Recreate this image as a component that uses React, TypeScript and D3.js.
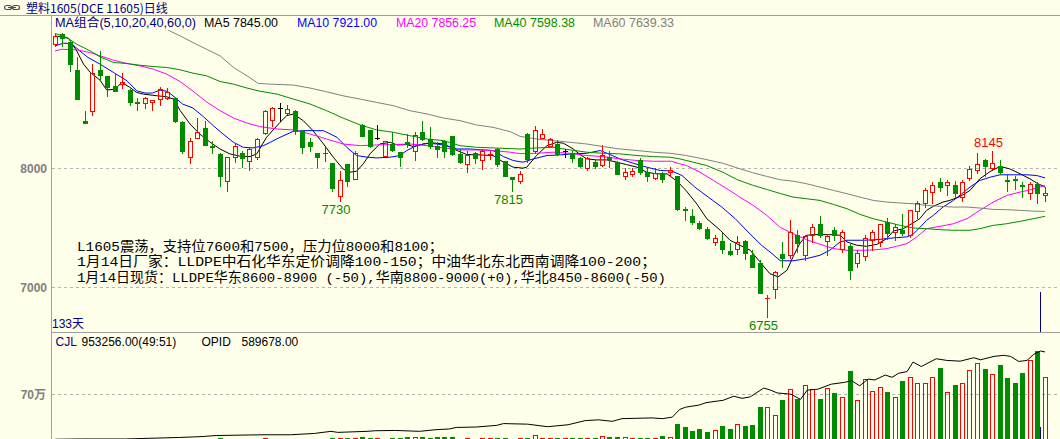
import React from "react";
import * as d3 from "d3";

// ---------- data ----------
const opens = [
  9045, 9130, 9060, 8825, 8400, 8480, 8825, 8780, 8695, 8710,
  8660, 8560, 8550, 8560, 8580, 8595, 8590, 8390, 8100, 8260,
  8340, 8190, 8125, 7895, 8095, 8130, 8060, 8095, 8300, 8405,
  8510, 8465, 8485, 8315, 8220, 8130, 8125, 8045, 7770, 8035,
  7915, 8365, 8320, 8255, 8105, 8205, 8140, 8225, 8145, 8310,
  8250, 8185, 8235, 8270, 8125, 8040, 8130, 8070, 8120, 8165,
  8060, 7925, 7895, 8290, 8150, 8260, 8190, 8210, 8150, 8130,
  8090, 8005, 8055, 8030, 8100, 8055, 7935, 7955, 8075, 7970,
  7920, 7950, 7970, 7940, 7660, 7605, 7540, 7495, 7385, 7390,
  7305, 7325, 7390, 7275, 7210, 6900, 6985, 7280, 7270, 7445,
  7270, 7445, 7535, 7390, 7485, 7325, 7345, 7205, 7265, 7395,
  7385, 7550, 7470, 7485, 7440, 7640, 7710, 7800, 7890, 7865,
  7865, 7760, 7920, 7985, 8075, 8005, 8025, 7905, 7915, 7865,
  7790, 7870, 7780,
];
const highs = [
  9130, 9140, 9070, 8935, 8485, 8875, 8985, 8780, 8805, 8805,
  8665, 8595, 8605, 8575, 8685, 8680, 8595, 8400, 8260, 8425,
  8400, 8235, 8130, 8100, 8205, 8150, 8180, 8255, 8495, 8520,
  8550, 8535, 8490, 8320, 8260, 8130, 8180, 8045, 7975, 8040,
  8145, 8375, 8320, 8365, 8235, 8305, 8140, 8290, 8310, 8395,
  8345, 8220, 8240, 8275, 8165, 8150, 8135, 8165, 8145, 8175,
  8060, 7930, 7975, 8295, 8360, 8330, 8260, 8240, 8165, 8145,
  8095, 8100, 8070, 8200, 8145, 8060, 8005, 8005, 8085, 8005,
  8005, 7970, 8015, 7940, 7675, 7660, 7555, 7510, 7440, 7460,
  7375, 7430, 7400, 7315, 7235, 6935, 7135, 7385, 7565, 7485,
  7445, 7535, 7600, 7450, 7505, 7480, 7365, 7315, 7440, 7485,
  7535, 7580, 7530, 7615, 7650, 7725, 7835, 7885, 7920, 7900,
  7895, 7905, 8025, 8130, 8080, 8145, 8070, 7955, 7940, 7885,
  7885, 7885, 7845,
];
const lows = [
  9030, 9030, 8820, 8580, 8380, 8450, 8745, 8610, 8650, 8675,
  8535, 8495, 8510, 8495, 8530, 8585, 8390, 8130, 8045, 8255,
  8195, 8130, 7855, 7815, 8055, 8015, 7985, 8080, 8290, 8360,
  8395, 8460, 8290, 8130, 8150, 8015, 8060, 7815, 7730, 7855,
  7910, 8275, 8180, 8245, 8105, 8150, 8025, 8180, 8075, 8240,
  8175, 8095, 8095, 8115, 8045, 7970, 8045, 8000, 8080, 8025,
  7935, 7815, 7880, 8055, 8130, 8255, 8185, 8115, 8095, 8055,
  8015, 7985, 8005, 8025, 8015, 7950, 7910, 7935, 7955, 7895,
  7910, 7890, 7935, 7655, 7565, 7535, 7495, 7405, 7355, 7290,
  7275, 7285, 7240, 7175, 6955, 6755, 6915, 7175, 7245, 7300,
  7230, 7385, 7425, 7270, 7395, 7300, 7075, 7175, 7230, 7315,
  7345, 7410, 7395, 7445, 7425, 7580, 7675, 7710, 7815, 7780,
  7760, 7730, 7900, 7960, 7940, 8000, 7955, 7810, 7830, 7760,
  7745, 7710, 7730,
];
const closes = [
  9115, 9095, 8880, 8585, 8380, 8800, 8785, 8685, 8655, 8730,
  8555, 8550, 8590, 8575, 8665, 8640, 8395, 8145, 8235, 8310,
  8195, 8180, 7935, 8095, 8190, 8085, 8165, 8250, 8480, 8505,
  8510, 8500, 8315, 8180, 8190, 8100, 8130, 7835, 7900, 7895,
  8130, 8275, 8190, 8255, 8235, 8155, 8100, 8205, 8285, 8250,
  8190, 8160, 8145, 8125, 8055, 8115, 8085, 8150, 8125, 8035,
  7935, 7915, 7955, 8080, 8320, 8290, 8250, 8125, 8150, 8085,
  8025, 8085, 8025, 8115, 8080, 7950, 7970, 7975, 7970, 7940,
  7960, 7910, 7985, 7660, 7650, 7550, 7500, 7415, 7420, 7320,
  7285, 7385, 7290, 7175, 6955, 6915, 7130, 7245, 7465, 7375,
  7435, 7505, 7440, 7435, 7440, 7465, 7145, 7290, 7415, 7470,
  7530, 7455, 7505, 7460, 7650, 7710, 7820, 7865, 7845, 7890,
  7790, 7885, 8000, 8040, 8025, 8045, 7970, 7895, 7905, 7850,
  7870, 7795, 7795,
];
const volumes = [
  8000, 6000, 7000, 9000, 8000, 9000, 7000, 6000, 6000, 7000,
  8000, 6000, 6000, 6000, 7000, 6000, 9000, 11000, 10000, 9000,
  10000, 11000, 27000, 12000, 10000, 11000, 12000, 12000, 38000, 12000,
  13000, 12000, 13000, 17000, 12000, 17000, 17000, 38000, 38000, 38000,
  38000, 49000, 38000, 38000, 22000, 38000, 38000, 49000, 49000, 49000,
  38000, 49000, 49000, 49000, 12000, 38000, 22000, 38000, 27000, 38000,
  38000, 22000, 27000, 38000, 79000, 38000, 23000, 38000, 38000, 38000,
  38000, 38000, 38000, 68000, 53000, 53000, 49000, 23000, 38000, 38000,
  38000, 68000, 53000, 243000, 192000, 131000, 161000, 120000, 157000, 218000,
  161000, 250000, 218000, 233000, 500000, 495000, 388000, 609000, 773000, 630000,
  840000, 773000, 624000, 790000, 717000, 656000, 1056000, 609000, 928000, 747000,
  810000, 732000, 656000, 902000, 963000, 861000, 872000, 963000, 1103000, 732000,
  840000, 872000, 1071000, 1179000, 1088000, 1010000, 1134000, 948000, 861000, 1015000,
  1211000, 1354000, 953256,
];

// moving averages: [day index, value]
const ma5: [number, number][] = [
  [0, 9114], [1.8, 9095], [2.9, 8988], [3.8, 8877], [4.7, 8807], [6, 8743], [6.9, 8659], [8, 8667],
  [8.9, 8723], [10, 8681], [10.9, 8639], [11.8, 8625], [13.6, 8611], [14.9, 8603], [15.8, 8583],
  [16.7, 8486], [18, 8374], [19.3, 8290], [20.7, 8220], [22, 8164], [23.3, 8123], [24.7, 8103],
  [26, 8100], [26.9, 8123], [28.2, 8262], [30, 8388], [30.9, 8444], [31.8, 8458], [33.1, 8402],
  [34.4, 8318], [35.8, 8206], [37.1, 8095], [38.4, 7997], [39.3, 7969], [40.2, 7977], [41.1, 8039],
  [42, 8123], [43.3, 8206], [44.7, 8220], [45.6, 8198], [46.9, 8201], [47.8, 8184], [49.1, 8206],
  [50.4, 8215], [51.8, 8206], [53.6, 8151], [54.9, 8117], [56.7, 8114], [58.4, 8109], [59.8, 8053],
  [61.1, 8011], [62.4, 8003], [62.9, 8011], [64.2, 8109], [65.6, 8192], [66.9, 8220], [67.8, 8212],
  [69.1, 8164], [70, 8117], [70.9, 8081], [72.2, 8072], [73.6, 8072], [74.9, 8053], [76.2, 8033],
  [77.6, 8011], [78.9, 7969], [80.2, 7955], [81.6, 7955], [83, 7890], [84.2, 7810], [85.6, 7700],
  [86.9, 7578], [88.7, 7481], [90, 7397], [91.3, 7355], [92.7, 7313], [94, 7215], [95.3, 7117],
  [96.4, 7089], [97.6, 7145], [98.4, 7257], [99.3, 7369], [100.2, 7439], [101.1, 7444], [102, 7444],
  [103.3, 7444], [104.7, 7439], [105.6, 7383], [106.9, 7355], [108.2, 7346], [109.6, 7363],
  [110.9, 7411], [111.8, 7475], [113.1, 7494], [114.4, 7542], [115.3, 7578], [116.2, 7648],
  [117.1, 7682], [118.4, 7718], [119.3, 7732], [120.7, 7765], [122, 7816], [123.3, 7913],
  [124.7, 7975], [126, 8017], [127.3, 7997], [128.7, 7955], [130, 7913], [130.9, 7877], [132, 7845],
];
const ma10: [number, number][] = [
  [0, 9030], [1.1, 9053], [2.2, 9050], [3.3, 8988], [4.4, 8933], [6, 8877], [7.8, 8807], [9.6, 8737],
  [10.9, 8653], [12, 8634], [13, 8634], [14, 8659], [15, 8648], [16, 8597], [17, 8542], [18.4, 8508],
  [19.8, 8435], [21.1, 8360], [22.4, 8290], [23.8, 8220], [25.1, 8178], [26.4, 8173], [27.8, 8192],
  [28.7, 8220], [30, 8262], [31.8, 8313], [33.1, 8318], [35.8, 8318], [37.6, 8262], [38.9, 8178],
  [40.2, 8109], [41.6, 8095], [42.9, 8089], [44.7, 8095], [46, 8109], [46.9, 8151], [48.2, 8192],
  [49.6, 8212], [50.9, 8206], [52.2, 8192], [53.6, 8164], [55.3, 8164], [57.1, 8156], [58.4, 8151],
  [59.8, 8100], [61.1, 8067], [62.4, 8053], [63.8, 8081], [65.6, 8109], [67.3, 8114], [69.1, 8123],
  [70.9, 8128], [72.7, 8151], [74, 8117], [75.3, 8081], [77.1, 8044], [78.9, 8011], [80.7, 7983],
  [82.2, 7980], [83.6, 7941], [85.3, 7844], [87.1, 7760], [88.9, 7676], [90.7, 7578], [92.4, 7467],
  [94.2, 7355], [95.6, 7285], [96.7, 7225], [98.4, 7224], [100.2, 7243], [102, 7271], [103.3, 7313],
  [104.7, 7383], [105.6, 7397], [107.8, 7397], [109.6, 7402], [110.9, 7411], [112.2, 7419],
  [113.6, 7425], [114.4, 7447], [115.3, 7503], [116.2, 7564], [117.1, 7606], [118.4, 7676],
  [119.8, 7732], [120.9, 7788], [122, 7844], [123.3, 7899], [124.7, 7927], [126, 7947], [127.8, 7947],
  [129.6, 7947], [130.9, 7941], [132, 7921],
];
const ma20: [number, number][] = [
  [0, 8988], [0.9, 9002], [2.9, 8997], [4.7, 8974], [6, 8947], [7.8, 8910], [9.6, 8882], [11.3, 8863],
  [13.1, 8835], [14.9, 8793], [16.7, 8730], [18.4, 8650], [20.2, 8560], [22, 8486], [23.8, 8424],
  [25.6, 8382], [27.3, 8352], [29.6, 8332], [31.8, 8324], [34, 8290], [36.2, 8248], [38.4, 8206],
  [40.7, 8192], [42.9, 8198], [45.1, 8201], [47.3, 8206], [49.6, 8192], [51.8, 8173], [54, 8156],
  [56.2, 8156], [58.4, 8151], [60.7, 8137], [62, 8125], [64.2, 8128], [66.4, 8137], [68.7, 8128],
  [70.9, 8109], [73.1, 8100], [75.3, 8081], [77.6, 8067], [79.8, 8061], [82.2, 8061], [83.3, 8039],
  [84.2, 8025], [86, 7969], [87.8, 7899], [89.6, 7830], [91.3, 7760], [93.1, 7690], [94.9, 7606],
  [96.7, 7505], [98.4, 7453], [100.2, 7402], [102, 7363], [103.8, 7327], [105.6, 7313], [107.8, 7313],
  [109.6, 7318], [110.9, 7327], [112.2, 7346], [113.6, 7369], [114.9, 7425], [116.2, 7494],
  [118, 7514], [119.8, 7536], [121.6, 7578], [123.3, 7648], [125.1, 7718], [126.9, 7774],
  [128.7, 7802], [130, 7821], [132, 7856],
];
const ma40: [number, number][] = [
  [0, 9135], [1.6, 9100], [2.9, 9044], [4.7, 8988], [6, 8938], [7.8, 8891], [9.6, 8882], [11.3, 8868],
  [13.1, 8857], [14.9, 8849], [16.7, 8829], [18.4, 8801], [20.2, 8779], [22, 8731], [23.8, 8709],
  [25.6, 8676], [27.3, 8650], [29.6, 8625], [31.8, 8583], [34, 8542], [36.2, 8486], [38.4, 8424],
  [40.7, 8366], [42.9, 8324], [45.1, 8304], [47.3, 8276], [49.6, 8248], [51.8, 8234], [54, 8192],
  [56.2, 8178], [58.4, 8173], [60.7, 8167], [62, 8164], [64.2, 8173], [66.4, 8178], [68.7, 8156],
  [70.9, 8137], [73.1, 8128], [75.3, 8123], [77.6, 8109], [79.8, 8100], [82, 8095], [83.3, 8081],
  [85.1, 8053], [86.9, 8025], [89, 7970], [91, 7905], [93, 7860], [95, 7822], [96.7, 7790],
  [98.4, 7760], [100.2, 7746], [102, 7732], [103.8, 7698], [105.6, 7662], [107.3, 7615], [109.1, 7578],
  [110.9, 7550], [112.7, 7522], [114.4, 7500], [116.2, 7494], [118, 7486], [119.8, 7481], [122, 7481],
  [123.3, 7494], [125.1, 7522], [126.9, 7536], [128.7, 7556], [130.4, 7578], [132, 7598],
];
const ma60: [number, number][] = [
  [14.5, 9185], [15.3, 9156], [16.7, 9114], [18.4, 9058], [20.2, 9002], [22, 8947], [23.8, 8849],
  [25.6, 8779], [27.1, 8715], [28.7, 8709], [31.8, 8701], [34, 8676], [36.2, 8645], [38.4, 8611],
  [40.7, 8583], [42.9, 8555], [45.1, 8528], [47.3, 8486], [49.6, 8458], [51.8, 8424], [54, 8402],
  [56.2, 8366], [58.4, 8346], [60.7, 8310], [62, 8270], [64.2, 8248], [66.4, 8234], [68.7, 8220],
  [70.9, 8206], [73.1, 8184], [75.3, 8164], [77.6, 8151], [79.8, 8137], [82, 8128], [84.2, 8109],
  [86.4, 8081], [89, 8045], [91, 8004], [93, 7965], [95, 7932], [96.7, 7905], [98.4, 7894],
  [100.2, 7872], [102, 7844], [103.8, 7816], [105.6, 7788], [107.3, 7760], [109.1, 7732],
  [110.9, 7718], [112.7, 7710], [114.4, 7704], [116.2, 7690], [118, 7682], [119.8, 7676],
  [121.6, 7676], [123.3, 7668], [125.1, 7656], [126.9, 7654], [128.7, 7648], [130.4, 7642], [132, 7639],
];
// open interest (OPID)
const openInterest: [number, number][] = [
  [0, 5000], [3.5, 7000], [9.4, 7000], [16.6, 17000], [19.6, 23000], [21.5, 30000], [27.6, 35000],
  [31.4, 35000], [34.6, 44000], [36.8, 58000], [37.7, 51000], [41.6, 58000], [42.7, 62000],
  [45.4, 64000], [48.6, 58000], [50.8, 69000], [52.6, 74000], [53.5, 84000], [56.2, 87000],
  [58.9, 98000], [59.8, 110000], [63, 106000], [65.7, 89000], [68.4, 102000], [70.7, 130000],
  [72.5, 135000], [74.3, 125000], [75.6, 143000], [79.6, 148000], [81, 143000], [82.3, 153000],
  [83.3, 205000], [84.1, 220000], [85.9, 234000], [86.8, 250000], [89.1, 266000], [90.5, 293000],
  [91.6, 279000], [92.7, 289000], [94.5, 348000], [95.4, 334000], [96.3, 315000], [98.1, 307000],
  [99.4, 272000], [100.3, 334000], [101.7, 340000], [103.5, 374000], [105.3, 386000], [106.2, 397000],
  [107.3, 363000], [108.4, 408000], [109.3, 402000], [110.7, 435000], [111.6, 420000], [112.5, 447000],
  [113.6, 458000], [114.4, 522000], [115.5, 492000], [117.5, 544000], [118.9, 533000], [120.7, 528000],
  [122.5, 551000], [123.4, 537000], [125.2, 560000], [126.5, 567000], [127.4, 560000], [128.5, 526000],
  [129.6, 533000], [130.5, 574000], [131.4, 596000], [132, 589678],
];

const priceTicks = [8000, 7000];
const volTicks = [700000];
const volTickLabels = ["70万"];
const maTitle = "MA组合(5,10,20,40,60,0)";
const maLegend = ["MA5 7845.00", "MA10 7921.00", "MA20 7856.25", "MA40 7598.38", "MA60 7639.33"];
const maLegendX = [204, 297, 396, 494, 593];
const maLegendW = [74, 80, 80, 81, 81];
const maColors = ["#000000", "#0000FF", "#FF00FF", "#008C00", "#808080"];
const extremes: { i: number; v: number; kind: "high" | "low" }[] = [
  { i: 38, v: 7730, kind: "low" },
  { i: 61, v: 7815, kind: "low" },
  { i: 95, v: 6755, kind: "low" },
  { i: 125, v: 8145, kind: "high" },
];
const notes = [
  "L1605震荡，支持位7600和7500，压力位8000和8100；",
  "1月14日厂家：LLDPE中石化华东定价调降100-150；中油华北东北西南调降100-200；",
  "1月14日现货：LLDPE华东8600-8900 (-50),华南8800-9000(+0),华北8450-8600(-50)",
];
const noteWidths = [366, 579, 589];

const RED = "#FF0000";
const GREEN = "#008C00";
const BG = "#FFFFEA";
const AXIS = "#A0A0A0";
const SANS = "'Liberation Sans', Arial, 'Noto Sans CJK SC', sans-serif";
const CJK = "'Noto Sans CJK SC', 'Liberation Sans', sans-serif";
const NOTE_FONT = "'Liberation Mono', 'Noto Sans CJK SC', monospace";

export default function App() {
  const W = 1060;
  const H = 439;
  const n = closes.length;
  const x = d3.scaleLinear().domain([0, n - 1]).range([55, 1045]);
  const y = d3.scaleLinear().domain([7000, 8000]).range([287.5, 168.5]);
  const vy = d3.scaleLinear().domain([0, 700000]).range([440, 394]);
  const oiMax = d3.max(openInterest, (d) => d[1]) as number;
  const oy = d3.scaleLinear().domain([0, oiMax]).range([440, 351]);
  const px = (i: number) => Math.floor(x(i));

  const maLine = d3
    .line<[number, number]>()
    .x((d) => x(d[0]))
    .y((d) => y(d[1]));
  const oiLine = d3
    .line<[number, number]>()
    .x((d) => x(d[0]))
    .y((d) => oy(d[1]));

  const candles = closes.map((c, i) => {
    const o = opens[i];
    const cx = px(i);
    const wx = cx + 0.5;
    const yH = Math.round(y(highs[i]));
    const yL = Math.round(y(lows[i]));
    const yO = Math.round(y(o));
    const yC = Math.round(y(c));
    if (c > o) {
      const top = yC;
      const bot = yO;
      if (bot - top < 2) {
        return (
          <g key={i} stroke={RED}>
            <line x1={wx} x2={wx} y1={yH} y2={yL + 1} />
            <line x1={cx - 2} x2={cx + 3} y1={top + 0.5} y2={top + 0.5} />
          </g>
        );
      }
      return (
        <g key={i} stroke={RED} fill="none">
          <line x1={wx} x2={wx} y1={yH} y2={top} />
          <line x1={wx} x2={wx} y1={bot + 1} y2={yL + 1} />
          <rect x={cx - 1.5} y={top + 0.5} width={4} height={bot - top} />
        </g>
      );
    }
    if (c < o) {
      return (
        <g key={i}>
          <line x1={wx} x2={wx} y1={yH} y2={yL + 1} stroke={GREEN} />
          <rect x={cx - 2} y={yO} width={5} height={Math.max(1, yC - yO + 1)} fill={GREEN} />
        </g>
      );
    }
    return (
      <g key={i} stroke="#000000">
        <line x1={wx} x2={wx} y1={yH} y2={yL + 1} />
        <line x1={cx - 2} x2={cx + 3} y1={yO + 0.5} y2={yO + 0.5} />
      </g>
    );
  });

  const volBars = volumes.map((v, i) => {
    const top = Math.round(vy(v));
    const h = vy(0) - vy(v);
    if (h < 1) return null;
    const cx = px(i);
    if (closes[i] >= opens[i]) {
      return (
        <rect key={i} x={cx - 1.5} y={top + 0.5} width={4} height={440 - top} fill="none" stroke={RED} />
      );
    }
    return <rect key={i} x={cx - 2} y={top} width={5} height={440 - top} fill={GREEN} />;
  });

  const maSets = [ma5, ma10, ma20, ma40, ma60];

  return (
    <svg
      width={W}
      height={H}
      viewBox={`0 0 ${W} ${H}`}
      style={{ position: "absolute", left: 0, top: 0, display: "block", background: BG }}
    >
      <defs>
        <clipPath id="mainClip">
          <rect x={52} y={30} width={W - 52} height={302} />
        </clipPath>
        <clipPath id="volClip">
          <rect x={52} y={333} width={W - 52} height={H - 333} />
        </clipPath>
      </defs>
      <rect x={0} y={0} width={W} height={H} fill={BG} />

      {/* title bar */}
      <g stroke="#505050" fill="none" strokeWidth={1.2}>
        <rect x={4.5} y={5.5} width={7} height={4} rx={2} />
        <rect x={12.5} y={5.5} width={7} height={4} rx={2} />
        <line x1={8} x2={16} y1={7.5} y2={7.5} />
      </g>
      <text x={26} y={13} fontFamily={CJK} fontSize={12} fill="#000080">
        塑料1605(DCE 11605)日线
      </text>
      <line x1={0} x2={W} y1={15.5} y2={15.5} stroke={AXIS} />

      {/* legend */}
      <text x={55} y={27} fontFamily={SANS} fontSize={12} fill="#000080" textLength={141} lengthAdjust="spacingAndGlyphs">
        {maTitle}
      </text>
      {maLegend.map((t, k) => (
        <text
          key={t}
          x={maLegendX[k]}
          y={27}
          fontFamily={SANS}
          fontSize={12}
          fill={maColors[k]}
          textLength={maLegendW[k]}
          lengthAdjust="spacingAndGlyphs"
        >
          {t}
        </text>
      ))}

      {/* axis frame */}
      <line x1={51.5} x2={51.5} y1={15} y2={H} stroke={AXIS} />
      <line x1={51} x2={W} y1={332.5} y2={332.5} stroke={AXIS} />

      {/* price grid + labels */}
      {priceTicks.map((p) => (
        <g key={p}>
          <line
            x1={52}
            x2={W}
            y1={Math.floor(y(p)) + 0.5}
            y2={Math.floor(y(p)) + 0.5}
            stroke="#B4B4B4"
            strokeDasharray="3 3"
          />
          <text
            x={47}
            y={y(p) + 4.5}
            textAnchor="end"
            fontFamily={SANS}
            fontSize={12}
            fontWeight="bold"
            fill="#808080"
          >
            {p}
          </text>
        </g>
      ))}

      <g clipPath="url(#mainClip)">
        {maSets.map((d, k) => (
          <path key={k} d={maLine(d) || ""} fill="none" stroke={maColors[k]} strokeWidth={1} />
        ))}
        {candles}
      </g>

      {/* extreme labels */}
      {extremes.map((e) => (
        <text
          key={e.i}
          x={x(e.i) - 4}
          y={e.kind === "low" ? y(e.v) + 13.5 : y(e.v) - 4.5}
          textAnchor="middle"
          fontFamily={SANS}
          fontSize={13}
          fill={e.kind === "low" ? "#008C00" : RED}
        >
          {e.v}
        </text>
      ))}

      {/* notes */}
      {notes.map((t, k) => (
        <text
          key={k}
          x={77}
          y={250.5 + k * 15.8}
          fontFamily={NOTE_FONT}
          fontSize={13.5}
          fill="#000000"
          textLength={noteWidths[k]}
          lengthAdjust="spacingAndGlyphs"
        >
          {t}
        </text>
      ))}

      <text x={52} y={328} fontFamily={SANS} fontSize={12} fill="#000080">
        133天
      </text>
      <line x1={1040.5} x2={1040.5} y1={292} y2={332} stroke="#000080" />

      {/* volume panel */}
      <text y={346} fontFamily={SANS} fontSize={12}>
        <tspan x={55.5} fill="#000080">CJL</tspan>
        <tspan x={81.5} fill="#000000">953256.00(49:51)</tspan>
        <tspan x={201.5} fill="#000000">OPID</tspan>
        <tspan x={241.5} fill="#000000">589678.00</tspan>
      </text>
      {volTicks.map((v, k) => (
        <g key={v}>
          <line
            x1={52}
            x2={W}
            y1={Math.floor(vy(v)) + 0.5}
            y2={Math.floor(vy(v)) + 0.5}
            stroke="#B4B4B4"
            strokeDasharray="3 3"
          />
          <text
            x={46}
            y={vy(v) + 5}
            textAnchor="end"
            fontFamily={SANS}
            fontSize={12}
            fontWeight="bold"
            fill="#808080"
          >
            {volTickLabels[k]}
          </text>
        </g>
      ))}
      <g clipPath="url(#volClip)">
        {volBars}
        <path d={oiLine(openInterest) || ""} fill="none" stroke="#000000" strokeWidth={1} />
        <line x1={1040.5} x2={1040.5} y1={427} y2={H} stroke="#000080" />
      </g>
    </svg>
  );
}
